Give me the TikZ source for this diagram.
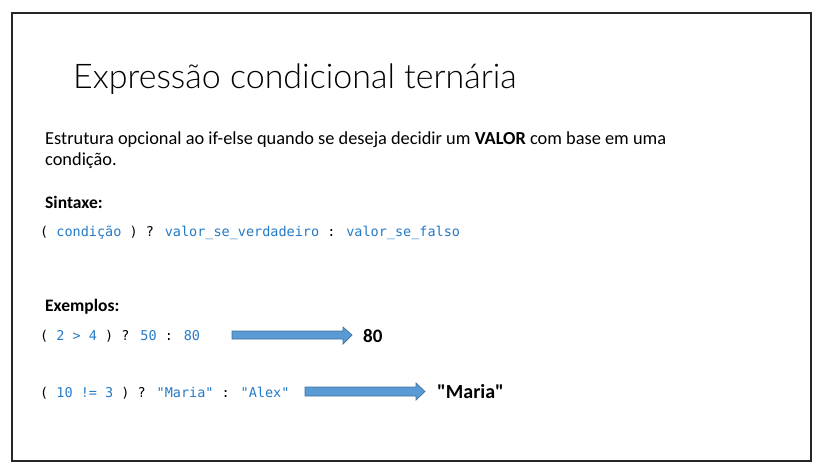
\documentclass[tikz,border=0pt]{standalone}
\usepackage{fontspec}
\setmainfont{Carlito}
\newfontfamily\codefont{DejaVu Sans Mono}
\newfontfamily\resfont{Carlito}
\newfontfamily\titlefont{Lato Light}
\definecolor{codeblue}{RGB}{36,122,198}
\definecolor{arrowfill}{RGB}{91,155,213}
\definecolor{arrowline}{RGB}{65,113,156}
\newcommand\cb[1]{\textcolor{codeblue}{#1}}
\begin{document}
\begin{tikzpicture}[x=1pt,y=-1pt,
	txt/.style={anchor=base west, inner sep=0pt},
	code/.style={txt, font=\codefont\fontsize{13.5}{16}\selectfont},
	result/.style={txt, font=\resfont\bfseries\fontsize{19}{22}\selectfont},
	resarrow/.style={draw=arrowline, fill=arrowfill, line width=0.7pt}]
		\useasboundingbox (0,0) rectangle (821,472);
		\draw[line width=1.5pt, black!85] (12,13) rectangle (811,461);
		% titulo e texto
		\node[txt, font=\titlefont\fontsize{34}{40}\selectfont] (title) at (73,88) {Expressão condicional ternária};
		\node[txt, font=\fontsize{18.35}{22}\selectfont] (line1) at (45,144) {Estrutura opcional ao if-else quando se deseja decidir um \textbf{VALOR} com base em uma};
		\node[txt, font=\fontsize{18.35}{22}\selectfont] (line2) at (45,165) {condição.};
		\node[txt, font=\bfseries\fontsize{17.5}{20}\selectfont] (sintaxe) at (45,208) {Sintaxe:};
		\node[code] (syntax) at (40,236) {( \cb{condição} ) ? \cb{valor\_se\_verdadeiro} : \cb{valor\_se\_falso}};
		% exemplos
		\node[txt, font=\bfseries\fontsize{17.5}{20}\selectfont] (exemplos) at (45,311) {Exemplos:};
		\node[code] (ex1) at (40,340) {( \cb{2 > 4} ) ? \cb{50} : \cb{80}};
		\node[code] (ex2) at (40,397) {( \cb{10 != 3} ) ? \cb{"Maria"} : \cb{"Alex"}};
		\node[result] (res1) at (363,342) {80};
		\node[result, font=\resfont\bfseries\fontsize{20}{24}\selectfont] (res2) at (437,398) {"Maria"};
		% setas
		\draw[resarrow] (232,331) -- (343,331) -- (343,327) -- (352,335) -- (343,344) -- (343,339) -- (232,339) -- cycle;
		\draw[resarrow] (305,387) -- (416,387) -- (416,383) -- (425,391.5) -- (416,400) -- (416,396) -- (305,396) -- cycle;
	\end{tikzpicture}
\end{document}
